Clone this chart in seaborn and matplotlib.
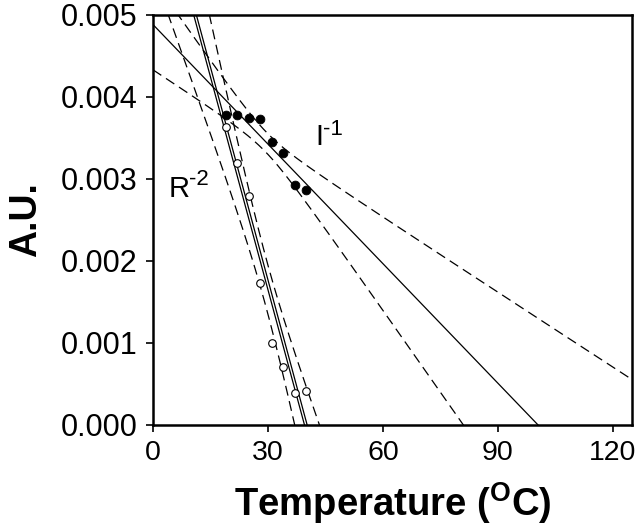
import numpy as np
import matplotlib
matplotlib.use('Agg')
import matplotlib.pyplot as plt
import seaborn as sns

# valores
temp = [19, 22, 25, 28, 31, 34, 37, 40]
inv_i = [0.00378, 0.00378, 0.003748, 0.003732, 0.003448, 0.003313, 0.002927, 0.002866]
inv_r2 = [0.003638, 0.003199, 0.002796, 0.001735, 0.001004, 0.000711, 0.000387, 0.000415]
r2_second_offset = 0.00012   # segunda reta continua do R-2
t_crit = 2.447               # t 95%, 6 g.l.


def fit_bands(x, y, xs):
    x = np.asarray(x, dtype=float)
    y = np.asarray(y, dtype=float)
    b, a = np.polyfit(x, y, 1)
    res = y - (a + b * x)
    s = np.sqrt(np.sum(res ** 2) / (len(x) - 2))
    sxx = np.sum((x - x.mean()) ** 2)
    hw = t_crit * s * np.sqrt(1 / len(x) + (xs - x.mean()) ** 2 / sxx)
    fit = a + b * xs
    return fit, fit - hw, fit + hw


sns.set_style('ticks')
plt.rcParams['font.family'] = ['Liberation Sans', 'DejaVu Sans']
plt.rcParams['mathtext.fontset'] = 'custom'
plt.rcParams['mathtext.rm'] = 'Liberation Sans'
plt.rcParams['mathtext.bf'] = 'Liberation Sans:bold'
plt.rcParams['lines.dashed_pattern'] = [8, 4.5]
plt.rcParams['text.color'] = 'black'
plt.rcParams['axes.labelcolor'] = 'black'

fig = plt.figure(figsize=(6.4, 5.31), dpi=100)
ax = fig.add_axes([0.239, 0.2, 0.7485, 0.7718])

xs = np.linspace(0, 125, 400)
fit_i, lo_i, hi_i = fit_bands(temp, inv_i, xs)
fit_r, lo_r, hi_r = fit_bands(temp, inv_r2, xs)

for yy, ls in [(fit_i, '-'), (lo_i, '--'), (hi_i, '--'),
               (fit_r, '-'), (fit_r + r2_second_offset, '-'), (lo_r, '--'), (hi_r, '--')]:
    sns.lineplot(x=xs, y=yy, color='black', lw=0.9, ls=ls, estimator=None, sort=False, ax=ax)

sns.scatterplot(x=temp, y=inv_i, color='black', edgecolor='black', s=40, linewidth=0.6, zorder=3, ax=ax)
sns.scatterplot(x=temp, y=inv_r2, color='white', edgecolor='black', s=30, linewidth=0.8, zorder=3, ax=ax)

ax.text(42.5, 0.003415, 'I', fontsize=21)
ax.text(44.4, 0.003537, '-1', fontsize=16)
ax.text(4.2, 0.00278, 'R', fontsize=21)
ax.text(9.3, 0.00292, '-2', fontsize=16)

ax.set_xlim(0, 125)
ax.set_ylim(0, 0.005)
ax.set_xticks([0, 30, 60, 90, 120])
ax.set_yticks([0, 0.001, 0.002, 0.003, 0.004, 0.005])
ax.set_yticklabels(['%.3f' % v for v in ax.get_yticks()])
ax.tick_params(length=5, width=1.2, color='black', labelcolor='black', pad=6)
ax.tick_params(axis='x', labelsize=20.5)
ax.tick_params(axis='y', labelsize=22)
for sp in ax.spines.values():
    sp.set_linewidth(1.8)
    sp.set_color('black')

ax.set_xlabel(r'Temperature ($\mathbf{^{O}}$C)', fontsize=27.5, fontweight='bold', labelpad=10)
ax.set_ylabel('A.U.', fontsize=27, fontweight='bold', labelpad=12)

fig.savefig('out.png', dpi=100)
